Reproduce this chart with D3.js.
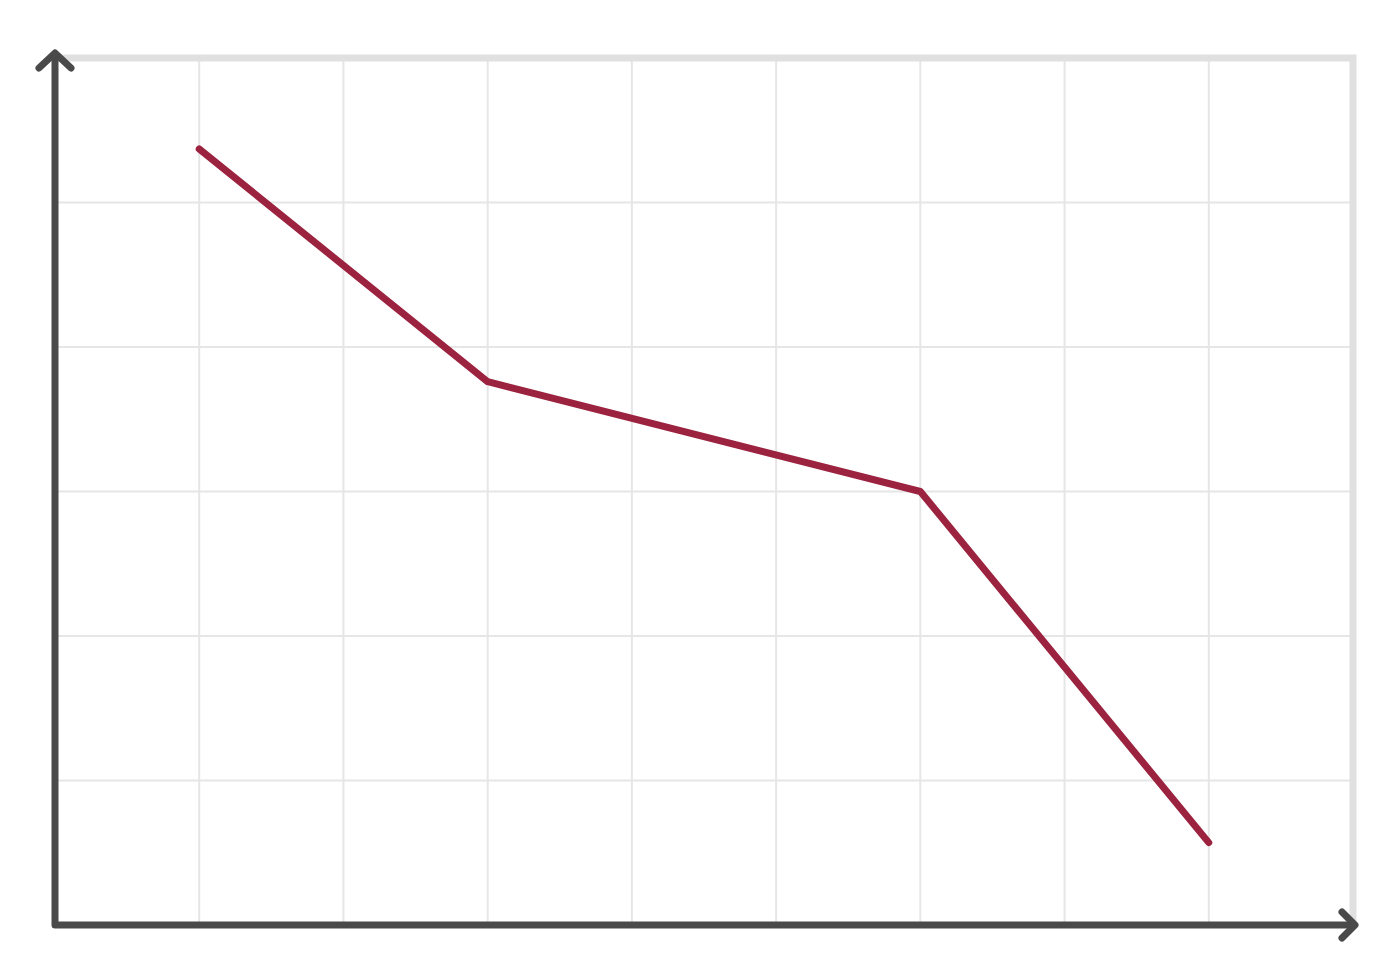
<!DOCTYPE html>
<html>
<head>
<meta charset="utf-8">
<script src="https://cdn.jsdelivr.net/npm/d3@7"></script>
<style>
  html, body { margin: 0; padding: 0; background: #fff; }
</style>
</head>
<body>
<div id="chart"></div>
<script>
// data (grid units)
const xValues = [1, 3, 6, 8];
const yValues = [5.37, 3.76, 3.0, 0.57];
const xGridTicks = [1, 2, 3, 4, 5, 6, 7, 8];
const yGridTicks = [1, 2, 3, 4, 5];

const width = 1400;
const height = 980;

const svg = d3.select("#chart")
  .append("svg")
  .attr("width", width)
  .attr("height", height);

// scales: 9 columns, 6 rows
const x = d3.scaleLinear().domain([0, 9]).range([55, 1353]);
const y = d3.scaleLinear().domain([0, 6]).range([925, 58]);

// grid
svg.append("g")
  .selectAll("line")
  .data(xGridTicks)
  .enter()
  .append("line")
  .attr("x1", d => x(d)).attr("x2", d => x(d))
  .attr("y1", y(6)).attr("y2", y(0))
  .attr("stroke", "#e6e6e6")
  .attr("stroke-width", 2);

svg.append("g")
  .selectAll("line")
  .data(yGridTicks)
  .enter()
  .append("line")
  .attr("x1", x(0)).attr("x2", x(9))
  .attr("y1", d => y(d)).attr("y2", d => y(d))
  .attr("stroke", "#e6e6e6")
  .attr("stroke-width", 2);

// light top / right frame
svg.append("path")
  .attr("d", `M${x(0)},${y(6)}H${x(9)}V${y(0)}`)
  .attr("fill", "none")
  .attr("stroke", "#e0e0e0")
  .attr("stroke-width", 7);

// data line
const line = d3.line()
  .x((d, i) => x(xValues[i]))
  .y(d => y(d));

svg.append("path")
  .datum(yValues)
  .attr("d", line)
  .attr("fill", "none")
  .attr("stroke", "#9c2340")
  .attr("stroke-width", 7)
  .attr("stroke-linecap", "round")
  .attr("stroke-linejoin", "round");

// axes with arrow heads
const axisColor = "#4a4a4a";
svg.append("path")
  .attr("d", `M${x(0)},${y(6) - 4}V${y(0)}H${x(9) + 2}`)
  .attr("fill", "none")
  .attr("stroke", axisColor)
  .attr("stroke-width", 7)
  .attr("stroke-linejoin", "round");

svg.append("path")
  .attr("d", `M${x(0) - 16},${y(6) + 10}L${x(0)},${y(6) - 5}L${x(0) + 16},${y(6) + 10}`)
  .attr("fill", "none")
  .attr("stroke", axisColor)
  .attr("stroke-width", 7)
  .attr("stroke-linecap", "round")
  .attr("stroke-linejoin", "round");

svg.append("path")
  .attr("d", `M${x(9) - 11},${y(0) - 13}L${x(9) + 2},${y(0)}L${x(9) - 11},${y(0) + 13}`)
  .attr("fill", "none")
  .attr("stroke", axisColor)
  .attr("stroke-width", 7)
  .attr("stroke-linecap", "round")
  .attr("stroke-linejoin", "round");
</script>
</body>
</html>
